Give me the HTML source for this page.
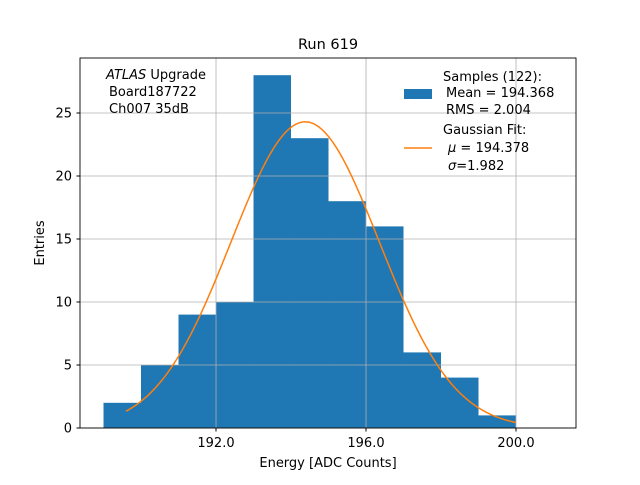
<!DOCTYPE html>
<html><head><meta charset="utf-8"><style>
body{margin:0;background:#fff;}
svg text{font-family:"DejaVu Sans","Liberation Sans",sans-serif;fill:#000;}
</style></head><body>
<svg id="chart" width="640" height="480" viewBox="0 0 640 480">
<rect width="640" height="480" fill="#fff"/>
<text x="328" y="49" font-size="14.5" text-anchor="middle">Run 619</text>
<g id="bars"></g><g id="grid"></g><g id="curve"></g>
<rect x="80" y="58" width="496" height="370" fill="none" stroke="#000" stroke-width="0.9"/>
<g id="ticks"></g>
<text x="328" y="467" font-size="13" text-anchor="middle">Energy [ADC Counts]</text>
<text transform="translate(44,243) rotate(-90)" font-size="13" text-anchor="middle">Entries</text>
<g font-size="13">
<text x="106" y="79"><tspan font-style="italic">ATLAS</tspan> Upgrade</text>
<text x="109" y="96">Board187722</text>
<text x="109" y="113">Ch007 35dB</text>
</g>
<g font-size="13">
<rect x="404" y="89" width="28" height="10" fill="#1f77b4"/>
<text x="443" y="81">Samples (122):</text>
<text x="446" y="97">Mean = 194.368</text>
<text x="446" y="114">RMS = 2.004</text>
<line x1="404" y1="148" x2="432" y2="148" stroke="#ff7f0e" stroke-width="1.5"/>
<text x="443" y="134">Gaussian Fit:</text>
<text x="448" y="152"><tspan font-style="italic">μ</tspan> = 194.378</text>
<text x="448" y="170"><tspan font-style="italic">σ</tspan>=1.982</text>
</g>
</svg>
<script>
const binEdges=[189,190,191,192,193,194,195,196,197,198,199];
const counts=[2,5,9,10,28,23,18,16,6,4,1];
const xTicks=[192,196,200];
const xTickLabels=["192.0","196.0","200.0"];
const yTicks=[0,5,10,15,20,25];
const fitMu=[194.378];
const fitSigma=[1.982];
const fitAmp=[24.3];
const fitRange=[189.6,200];
const NS="http://www.w3.org/2000/svg";
const X=v=>80+(v-188.373)*37.5;
const Y=v=>428-v*12.6;
function mk(t,a,p){const e=document.createElementNS(NS,t);for(const k in a)e.setAttribute(k,a[k]);document.getElementById(p).appendChild(e);return e;}
yTicks.forEach(t=>{
 const g=mk('line',{x1:80,x2:576,y1:Y(t),y2:Y(t),stroke:'#b0b0b0','stroke-width':0.8},'grid');
 
 
 const tk=mk('line',{x1:76.5,x2:80,y1:Y(t),y2:Y(t),stroke:'#000'},'ticks');
 
 
 const l=mk('text',{x:72,y:Y(t)+4.5,'font-size':13,'text-anchor':'end'},'ticks');l.textContent=t;
 
 
});
xTicks.forEach((t,i)=>{
 const g=mk('line',{x1:X(t),x2:X(t),y1:58,y2:428,stroke:'#b0b0b0','stroke-width':0.8},'grid');
 
 
 const tk=mk('line',{x1:X(t),x2:X(t),y1:428,y2:431.5,stroke:'#000'},'ticks');
 
 
 const l=mk('text',{x:X(t),y:447,'font-size':13,'text-anchor':'middle'},'ticks');l.textContent=xTickLabels[i];
 
 
});
binEdges.forEach((b,i)=>{
 const r=mk('rect',{x:X(b),y:Y(counts[i]),width:X(b+1)-X(b),height:Y(0)-Y(counts[i]),fill:'#1f77b4'},'bars');
 
 
});
let d='';
for(let i=0;i<=200;i++){const v=fitRange[0]+(fitRange[1]-fitRange[0])*i/200;
 const y=fitAmp[0]*Math.exp(-0.5*((v-fitMu[0])/fitSigma[0])**2);
 d+=(i?'L':'M')+X(v).toFixed(2)+','+Y(y).toFixed(2);}
const c=mk('path',{d:d,fill:'none',stroke:'#ff7f0e','stroke-width':1.5},'curve');


</script>
</body></html>
